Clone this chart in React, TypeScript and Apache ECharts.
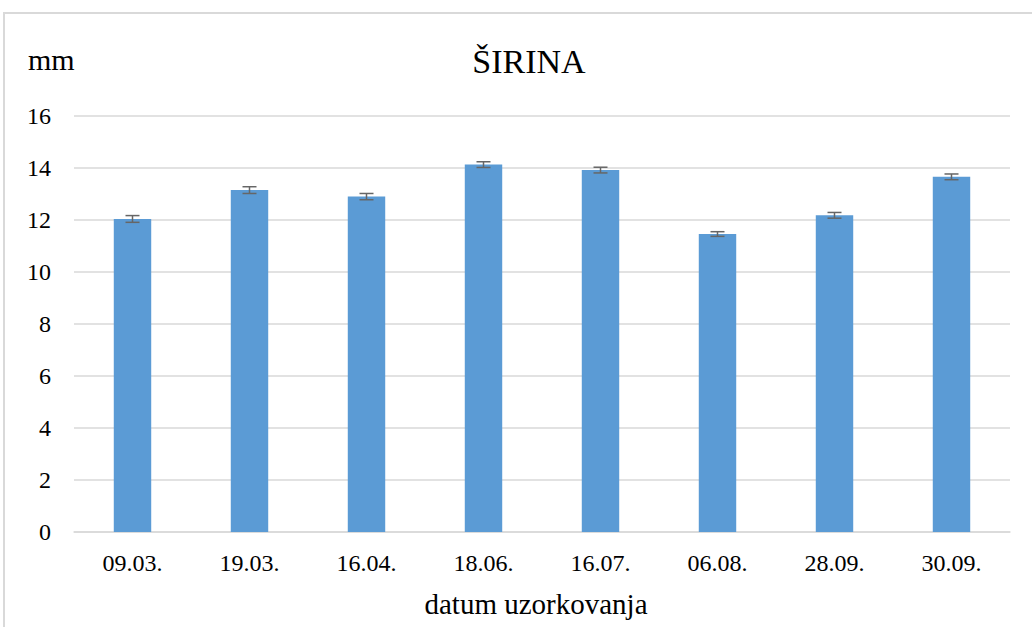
import React, { useEffect, useRef } from "react";
import * as echarts from "echarts";

const categories = ["09.03.", "19.03.", "16.04.", "18.06.", "16.07.", "06.08.", "28.09.", "30.09."];
const values = [12.04, 13.15, 12.9, 14.13, 13.92, 11.46, 12.18, 13.66];
const errors = [0.13, 0.13, 0.12, 0.11, 0.11, 0.09, 0.11, 0.11];
const yTicks = { min: 0, max: 16, interval: 2 };
const titleText = "ŠIRINA";
const yName = "mm";
const xName = "datum uzorkovanja";

export default function App() {
  const ref = useRef<HTMLDivElement>(null);
  useEffect(() => {
    document.body.style.margin = "0";
    const chart = echarts.init(ref.current!, null, { renderer: "svg" });
    const serif = "Times New Roman, Liberation Serif, serif";
    chart.setOption({
      animation: false,
      backgroundColor: "#ffffff",
      textStyle: { fontFamily: serif },
      graphic: [
        {
          type: "rect",
          shape: { x: 4, y: 13, width: 1100, height: 700 },
          style: { fill: "none", stroke: "#d9d9d9", lineWidth: 2 },
          silent: true,
        },
        {
          type: "text",
          left: 28,
          top: 44,
          style: { text: yName, fontFamily: serif, fontSize: 30, fill: "#000" },
        },
        {
          type: "text",
          x: 536,
          y: 589,
          style: { text: xName, fontFamily: serif, fontSize: 29, fill: "#000", align: "center" },
        },
      ],
      title: {
        text: titleText,
        left: 524,
        top: 39,
        textAlign: "center",
        textStyle: { fontFamily: serif, fontSize: 34, fontWeight: "normal", color: "#000" },
      },
      grid: { left: 74, right: 22, top: 116, bottom: 95 },
      xAxis: {
        type: "category",
        data: categories,
        axisLine: { lineStyle: { color: "#d9d9d9", width: 1.5 } },
        axisTick: { show: false },
        axisLabel: { color: "#000", fontSize: 24, fontFamily: serif, margin: 19 },
      },
      yAxis: {
        type: "value",
        min: yTicks.min,
        max: yTicks.max,
        interval: yTicks.interval,
        axisLine: { show: false },
        axisTick: { show: false },
        axisLabel: { color: "#000", fontSize: 24, fontFamily: serif, margin: 23 },
        splitLine: { lineStyle: { color: "#d9d9d9", width: 1.5 } },
      },
      series: [
        {
          type: "bar",
          data: values,
          barWidth: "32%",
          itemStyle: { color: "#5b9bd5" },
        },
        {
          type: "custom",
          data: values.map((v, i) => [i, v, errors[i]]),
          z: 10,
          renderItem: (params: any, api: any) => {
            const i = api.value(0);
            const v = api.value(1);
            const e = api.value(2);
            const top = api.coord([i, v + e]);
            const bot = api.coord([i, v - e]);
            const hw = 7;
            const style = { stroke: "#666666", lineWidth: 1.5 };
            return {
              type: "group",
              children: [
                { type: "line", shape: { x1: top[0], y1: top[1], x2: bot[0], y2: bot[1] }, style },
                { type: "line", shape: { x1: top[0] - hw, y1: top[1], x2: top[0] + hw, y2: top[1] }, style },
                { type: "line", shape: { x1: bot[0] - hw, y1: bot[1], x2: bot[0] + hw, y2: bot[1] }, style },
              ],
            };
          },
        },
      ],
    });
    return () => chart.dispose();
  }, []);
  return <div ref={ref} style={{ width: 1032, height: 627 }} />;
}
